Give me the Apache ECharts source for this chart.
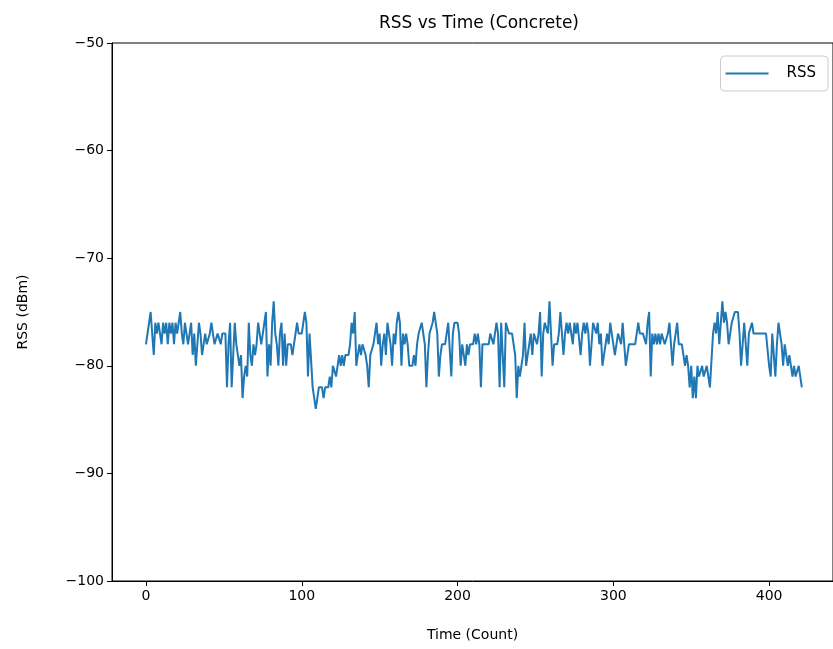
<!DOCTYPE html>
<html>
<head>
<meta charset="utf-8">
<script src="https://cdn.jsdelivr.net/npm/echarts@6/dist/echarts.min.js"></script>
<style>
  html, body { margin: 0; padding: 0; background: #fff; }
  #chart { width: 833px; height: 649px; }
</style>
</head>
<body>
<div id="chart"></div>
<script>
// Received signal strength samples (dBm), one per time count
const rssValues = [
  -78,-78,-76,-75,-77,-79,-76,-77,-76,-76,
  -78,-76,-77,-76,-78,-76,-77,-76,-78,-76,
  -77,-76,-75,-77,-78,-76,-77,-78,-78,-76,
  -79,-77,-80,-78,-76,-77,-79,-78,-77,-78,
  -78,-77,-76,-77,-78,-78,-77,-77,-78,-77,
  -77,-77,-82,-78,-76,-82,-79,-76,-78,-79,
  -80,-79,-83,-81,-80,-81,-76,-79,-80,-78,
  -79,-78,-76,-77,-78,-77,-76,-75,-81,-78,
  -80,-76,-74,-77,-78,-80,-77,-76,-80,-77,
  -80,-78,-78,-78,-79,-78,-78,-76,-77,-77,
  -77,-76,-75,-76,-81,-77,-77,-82,-83,-84,
  -83,-82,-82,-82,-83,-82,-82,-82,-81,-82,
  -80,-80,-81,-80,-79,-80,-79,-80,-79,-79,
  -79,-78,-76,-77,-75,-80,-80,-78,-79,-78,
  -78,-79,-80,-82,-79,-79,-78,-77,-76,-78,
  -77,-80,-78,-77,-79,-76,-76,-78,-80,-77,
  -78,-76,-75,-76,-80,-77,-78,-77,-78,-80,
  -80,-80,-79,-80,-78,-77,-77,-76,-76,-78,
  -82,-79,-77,-77,-76,-75,-75,-77,-81,-79,
  -78,-78,-78,-77,-76,-76,-81,-77,-76,-76,
  -76,-77,-80,-78,-78,-80,-78,-79,-78,-78,
  -78,-77,-78,-77,-78,-82,-78,-78,-78,-78,
  -78,-77,-77,-78,-77,-76,-77,-82,-76,-76,
  -82,-76,-76,-77,-77,-77,-78,-79,-83,-80,
  -81,-80,-79,-76,-80,-80,-78,-77,-79,-77,
  -77,-78,-77,-75,-81,-77,-76,-76,-77,-74,
  -77,-80,-78,-78,-78,-77,-75,-75,-79,-77,
  -76,-77,-76,-77,-78,-76,-77,-76,-76,-79,
  -77,-76,-77,-76,-77,-80,-80,-76,-76,-77,
  -76,-78,-77,-80,-80,-78,-77,-78,-76,-77,
  -78,-79,-78,-77,-77,-78,-76,-76,-80,-80,
  -78,-78,-78,-78,-78,-77,-76,-77,-77,-77,
  -77,-78,-76,-75,-81,-77,-78,-77,-78,-77,
  -78,-77,-77,-78,-78,-77,-76,-76,-80,-78,
  -77,-76,-78,-78,-78,-79,-80,-79,-80,-82,
  -80,-83,-81,-83,-80,-81,-81,-80,-81,-81,
  -80,-80,-82,-82,-77,-76,-77,-75,-78,-76,
  -74,-76,-75,-76,-78,-77,-76,-76,-75,-75,
  -75,-77,-80,-78,-76,-76,-80,-77,-77,-76,
  -77,-77,-77,-77,-77,-77,-77,-77,-77,-77,
  -80,-81,-77,-77,-81,-78,-76,-77,-78,-80,
  -78,-79,-80,-79,-80,-81,-80,-81,-81,-80,-81,-82
];
const xTicks = [0, 100, 200, 300, 400];

const FONT = 'DejaVu Sans';
const minusFmt = v => (v < 0 ? '\u2212' + Math.abs(v) : String(v));

const chart = echarts.init(document.getElementById('chart'), null, { renderer: 'canvas' });
chart.setOption({
  animation: false,
  backgroundColor: '#ffffff',
  title: {
    text: 'RSS vs Time (Concrete)',
    left: 474, top: 10, textAlign: 'center',
    textStyle: { fontFamily: FONT, fontSize: 17, fontWeight: 'normal', color: '#000' }
  },
  legend: {
    right: 5, top: 56,
    data: [{ name: 'RSS', icon: 'rect' }],
    itemWidth: 43, itemHeight: 2,
    padding: [10, 12, 10, 5],
    borderColor: '#cccccc', borderWidth: 1, borderRadius: 4,
    backgroundColor: 'rgba(255,255,255,0.8)',
    textStyle: { fontFamily: FONT, fontSize: 15, color: '#000', padding: [0, 0, 0, 13] }
  },
  grid: {
    left: 112, top: 43, width: 723, height: 538,
    show: true, borderColor: '#000', borderWidth: 1, containLabel: false
  },
  xAxis: {
    type: 'value', min: -21.8, max: 441,
    name: 'Time (Count)', nameLocation: 'middle', nameGap: 47,
    nameTextStyle: { fontFamily: FONT, fontSize: 14, color: '#000' },
    axisLine: { show: true, onZero: false, lineStyle: { color: '#000', width: 1 } },
    axisTick: { show: true, inside: false, length: 5, customValues: xTicks, lineStyle: { color: '#000' } },
    axisLabel: { customValues: xTicks, fontFamily: FONT, fontSize: 14, color: '#000', margin: 8, formatter: minusFmt },
    splitLine: { show: false }
  },
  yAxis: {
    type: 'value', min: -100, max: -50, interval: 10,
    name: 'RSS (dBm)', nameLocation: 'middle', nameGap: 82,
    nameTextStyle: { fontFamily: FONT, fontSize: 14, color: '#000' },
    axisLine: { show: true, onZero: false, lineStyle: { color: '#000', width: 1 } },
    axisTick: { show: true, inside: false, length: 5, lineStyle: { color: '#000' } },
    axisLabel: { fontFamily: FONT, fontSize: 14, color: '#000', margin: 8, formatter: minusFmt },
    splitLine: { show: false }
  },
  series: [{
    name: 'RSS',
    type: 'line',
    data: rssValues.map((v, i) => [i, v]),
    showSymbol: false,
    symbol: 'none',
    lineStyle: { color: '#1f77b4', width: 2 },
    itemStyle: { color: '#1f77b4' }
  }]
});
</script>
</body>
</html>
